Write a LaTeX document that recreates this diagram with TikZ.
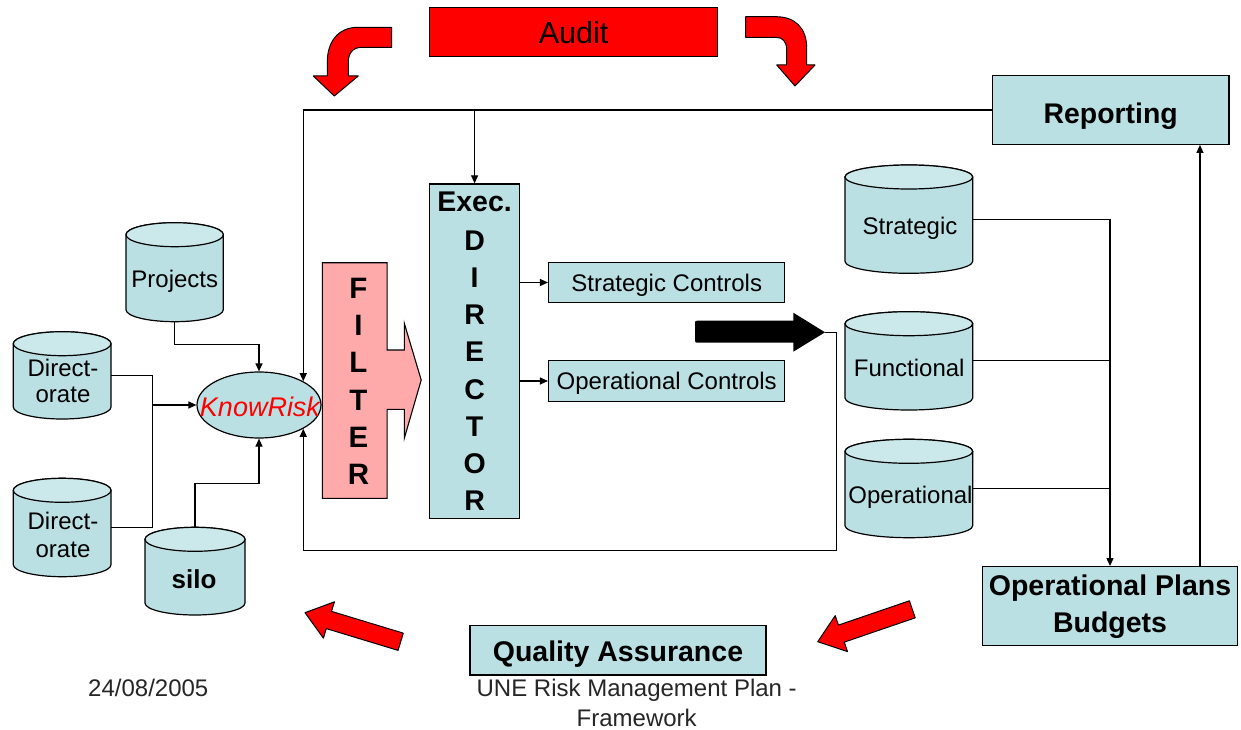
\documentclass[tikz,border=0pt]{standalone}
\usepackage{fontspec}
\setmainfont{Liberation Sans}
\usetikzlibrary{shapes.geometric,arrows.meta,calc}

\definecolor{boxfill}{HTML}{BBE0E3}
\definecolor{cyltopfill}{HTML}{CBE8EA}
\definecolor{filterpink}{HTML}{FFAAAA}
\definecolor{auditred}{HTML}{FF0000}
\definecolor{footgray}{HTML}{262626}

\newcommand\fs[2]{\fontsize{#1}{#2}\selectfont}

% database cylinder: name, centre x, top y, bottom y, half width
\newcommand\dbcyl[5]{%
  \path[cylbody] (#2-#5,#3+12) -- (#2-#5,#4-12)
     arc[start angle=180,end angle=360,x radius=#5pt,y radius=12pt]
     -- (#2+#5,#3+12)
     arc[start angle=0,end angle=180,x radius=#5pt,y radius=12pt] -- cycle;
  \path[cyltop] (#2,#3+12) ellipse[x radius=#5pt,y radius=12pt];
  \node[minimum width={2*#5},minimum height={#4-#3}] (#1) at (#2,{(#3+#4)/2}) {};
}

\begin{document}
\begin{tikzpicture}[x=1pt,y=-1pt,
  every node/.style={inner sep=0pt},
  box/.style={draw=black,line width=1.3pt,fill=boxfill},
  cylbody/.style={draw=black,line width=1.2pt,fill=boxfill},
  cyltop/.style={draw=black,line width=1.2pt,fill=cyltopfill},
  conn/.style={draw=black,line width=1.2pt},
  arr/.style={conn,-{Triangle[length=8pt,width=7pt]}},
  redarrow/.style={fill=auditred,draw=black,line width=1pt,line join=round},
  lbl/.style={font=\fs{24}{26}},
  ctrl/.style={box,minimum width=236.2,minimum height=40.4,font=\fs{24}{26},
               text height=17pt,text depth=0pt},
]
\useasboundingbox[fill=white] (0,0) rectangle (1241,730);

% ---- top: audit with its two bent arrows
\node[box,fill=auditred,minimum width=287.6,minimum height=49.4,
      font=\fs{30.5}{32},text height=23pt,text depth=0pt] (audit) at (573.6,32) {Audit};

\path[redarrow] (391.7,27.3) -- (358,27.3)
   .. controls (338,27.3) and (327.3,42) .. (327.3,62) -- (327.3,76)
   -- (313.3,76) -- (334.3,96) -- (358.3,76) -- (348.3,76) -- (348.3,62)
   .. controls (348.3,53) and (353,47.3) .. (362,47.3) -- (391.7,47.3) -- cycle;

\path[redarrow] (745.7,16.7) -- (776,16.7)
   .. controls (795,16.7) and (806.7,28) .. (806.7,48) -- (806.7,65)
   -- (815,65) -- (795,86) -- (776.7,65) -- (786.7,65) -- (786.7,50)
   .. controls (786.7,42) and (783,37.3) .. (776,37.3) -- (745.7,37.3) -- cycle;

% ---- boxes
\node[box,minimum width=236.7,minimum height=68.6,font=\bfseries\fs{28.4}{30},
      text height=26.6pt,text depth=0pt] (rep) at (1110.65,110) {Reporting};
\node[box,minimum width=89.6,minimum height=334.3,align=center,font=\bfseries\fs{28.5}{37.1}]
      (exec) at (474.6,351.15) {Exec.\\[1.9pt]D\\I\\R\\E\\C\\T\\O\\R};
\node[ctrl] (sc) at (666.7,282.5) {Strategic Controls};
\node[ctrl] (oc) at (666.7,381) {Operational Controls};
\node[box,minimum width=255.4,minimum height=79,align=center,
      font=\bfseries\fs{28.5}{37}] (opb) at (1110,606.2) {Operational Plans\\Budgets};
\node[box,minimum width=296,minimum height=49.3,font=\bfseries\fs{28.5}{30},
      text height=22.8pt,text depth=0pt] (qa) at (618,650.3) {Quality Assurance};

% ---- filter block with its arrow
\path[fill=filterpink,draw=black,line width=1.1pt]
   (322.4,262.7) -- (387.1,262.7) -- (387.1,350) -- (404.3,350) -- (404.3,323.3)
   -- (421.2,380) -- (404.3,438.3) -- (404.3,409.3) -- (387.1,409.3)
   -- (387.1,498.3) -- (322.4,498.3) -- cycle;
\node[anchor=north,align=center,font=\bfseries\fs{29.5}{37.2}] (filtertext) at (358.5,278)
      {F\\I\\L\\T\\E\\R};

% ---- KnowRisk hub
\node[ellipse,draw=black,line width=1.2pt,fill=boxfill,minimum width=124,
      minimum height=66] (kr) at (259,405) {};
\node[anchor=base,font=\itshape\fs{27}{29},text=auditred] (krtext) at (260,416) {KnowRisk};

% ---- databases
\dbcyl{proj}{174.65}{222.7}{321.7}{48.65}
\dbcyl{dir1}{62.15}{331.7}{419}{48.85}
\dbcyl{dir2}{62.15}{478.3}{576.7}{48.85}
\dbcyl{silo}{195}{527.3}{615}{50}
\dbcyl{strat}{908.85}{165}{273.3}{63.85}
\dbcyl{func}{908.85}{311.7}{410}{63.85}
\dbcyl{oper}{908.85}{439.3}{537.7}{63.85}

\node[lbl,anchor=base] (projtext) at (174.8,287.3) {Projects};
\node[lbl,anchor=north,align=center,font=\fs{24}{26}] (dir1text) at (63,359) {Direct-\\orate};
\node[lbl,anchor=north,align=center,font=\fs{24}{28}] (dir2text) at (63,511.7) {Direct-\\orate};
\node[anchor=base,font=\bfseries\fs{26}{28}] (silotext) at (194,588.3) {silo};
\node[lbl,anchor=base] (strattext) at (910,234) {Strategic};
\node[lbl,anchor=base] (functext) at (909.2,376) {Functional};
\node[lbl,anchor=base] (opertext) at (910.5,503) {Operational};

% ---- black arrow
\coordinate (bktip) at (825,332.3);
\fill[black] (bktip) -- (793.3,351.7) -- (793.3,342.7) -- (699,342.7)
   .. controls (695,342.7) .. (695,338.7) -- (695,324.7)
   .. controls (695,320.7) .. (699,320.7) -- (793.3,320.7) -- (793.3,312.7) -- cycle;

% ---- bottom block arrows
\begin{scope}[shift={(305,612.7)},rotate=-16.9]
  \path[redarrow] (0,0) -- (25,-19) -- (25,-9) -- (100,-9) -- (100,9) -- (25,9) -- (25,19) -- cycle;
\end{scope}
\begin{scope}[shift={(817.7,641.7)},rotate=18.9]
  \path[redarrow] (0,0) -- (25,-19) -- (25,-9) -- (100,-9) -- (100,9) -- (25,9) -- (25,19) -- cycle;
\end{scope}

% ---- connectors
\draw[arr] (proj.south) -- ++(0,22.6) -| (kr.north);
\coordinate (dirjoin) at (152.5,405);
\draw[conn] (dir1.east) -| (dirjoin) |- (dir2.east);
\draw[arr] (dirjoin) -- (kr.west);
\draw[arr] (silo.north) -- ++(0,-43.3) -| (kr.south);

\draw[arr] (rep.west) -| (kr.north east);
\draw[arr] (exec.north |- rep.west) -- (exec.north);

\coordinate (loopcorner) at (836.7,550.5);
\draw[arr] (bktip) -| (loopcorner) -| (kr.south east);

\draw[arr] (exec.east |- sc.west) -- (sc.west);
\draw[arr] (exec.east |- oc.west) -- (oc.west);

\draw[arr] (strat.east) -| (opb.north);
\draw[conn] (func.east) -- (func.east -| opb.north);
\draw[conn] (oper.east) -- (oper.east -| opb.north);

\path ([xshift=-38.4pt]opb.north east) coordinate (upfoot);
\draw[arr] (upfoot) -- (upfoot |- rep.south);

% ---- footer
\node[anchor=base,font=\fs{24}{26},text=footgray] (date) at (148.3,696.7) {24/08/2005};
\node[anchor=north,align=center,font=\fs{24}{30},text=footgray] (foot) at (636.7,678.5)
      {UNE Risk Management Plan -\\Framework};
\end{tikzpicture}
\end{document}
